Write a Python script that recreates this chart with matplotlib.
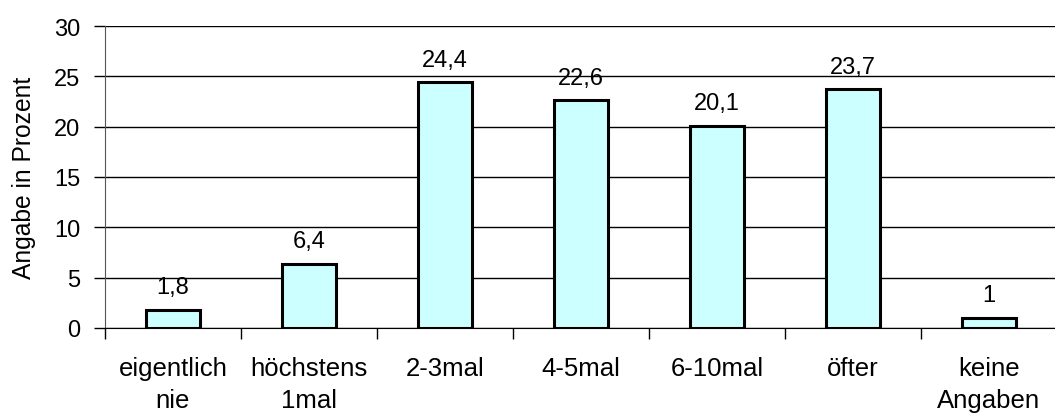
import matplotlib
matplotlib.use("Agg")
import matplotlib.pyplot as plt
import numpy as np

categories = ["eigentlich\nnie", "höchstens\n1mal", "2-3mal", "4-5mal", "6-10mal", "öfter", "keine\nAngaben"]
values = [1.8, 6.4, 24.4, 22.6, 20.1, 23.7, 1.0]
value_labels = ["1,8", "6,4", "24,4", "22,6", "20,1", "23,7", "1"]
y_ticks = [0, 5, 10, 15, 20, 25, 30]

plt.rcParams["font.family"] = ["Liberation Sans", "DejaVu Sans"]

W, H = 1055, 414
fig = plt.figure(figsize=(W / 100, H / 100), dpi=100)
ax = fig.add_axes([105 / W, 1 - 329 / H, (1057 - 105) / W, (329 - 27) / H])

x = np.arange(len(categories))
ax.bar(x, values, width=0.4, color="#CCFFFF", edgecolor="black", linewidth=2.2, zorder=3)

for xi, v, lab in zip(x, values, value_labels):
    ax.annotate(lab, (xi, v), xytext=(0, 12), textcoords="offset points",
                ha="center", va="baseline", fontsize=17)

ax.set_xlim(-0.5, len(categories) - 0.5)
ax.set_ylim(0, 30)
ax.set_yticks(y_ticks)
ax.set_yticklabels([str(t) for t in y_ticks], fontsize=17)
ax.yaxis.grid(True, color="black", linewidth=1)
ax.set_axisbelow(True)

ax.set_xticks(x)
ax.set_xticklabels(categories, fontsize=18.5, linespacing=1.45)
ax.tick_params(axis="x", which="major", length=0, pad=20)
ax.set_xticks(np.arange(len(categories)) - 0.5, minor=True)
ax.tick_params(axis="x", which="minor", length=8, width=1, direction="out")
ax.tick_params(axis="y", length=8, width=1, direction="out", pad=10)

for s in ["top", "right"]:
    ax.spines[s].set_visible(False)
ax.spines["left"].set_color("#555555")
ax.spines["bottom"].set_color("black")

ax.set_ylabel("Angabe in Prozent", fontsize=17.7, labelpad=13)

fig.savefig("out.png", dpi=100)
